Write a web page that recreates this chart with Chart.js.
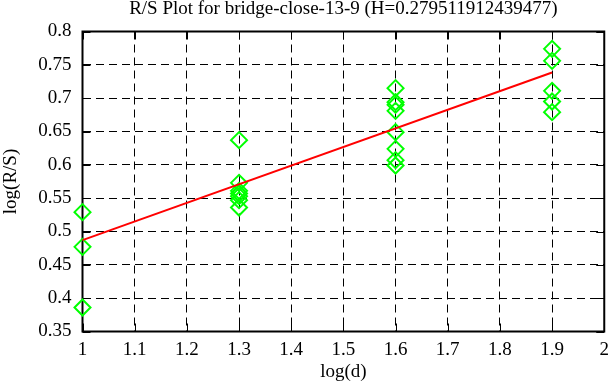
<!DOCTYPE html>
<html>
<head>
<meta charset="utf-8">
<script src="https://cdn.jsdelivr.net/npm/chart.js@4"></script>
<style>
  html, body { margin:0; padding:0; background:#fff; }
  #wrap { width:616px; height:387px; }
</style>
</head>
<body>
<div id="wrap"><canvas id="rsChart" width="616" height="387"></canvas></div>
<script>
// 데이터: log(d) 위치별 log(R/S) 값
var logD = [1, 1.3, 1.6, 1.9];
var rsAt10 = [0.529, 0.477, 0.386];
var rsAt13 = [0.637, 0.573, 0.561, 0.557, 0.553, 0.547, 0.536];
var rsAt16 = [0.715, 0.694, 0.690, 0.681, 0.649, 0.624, 0.607, 0.599];
var rsAt19 = [0.774, 0.756, 0.711, 0.695, 0.679];
// 추세선 양 끝점
var fitX = [1, 1.9];
var fitY = [0.487, 0.7386];
// 눈금
var xTicks = [1, 1.1, 1.2, 1.3, 1.4, 1.5, 1.6, 1.7, 1.8, 1.9, 2];
var yTicks = [0.35, 0.4, 0.45, 0.5, 0.55, 0.6, 0.65, 0.7, 0.75, 0.8];

var groups = [rsAt10, rsAt13, rsAt16, rsAt19];
var points = [];
groups.forEach(function(g, i){
  g.forEach(function(v){ points.push({x: logD[i], y: v}); });
});
var fitLine = fitX.map(function(x, i){ return {x: x, y: fitY[i]}; });

function fmt(v){ return String(parseFloat(v.toFixed(2))); }

// 테두리 + 안쪽 눈금 표시
var framePlugin = {
  id: 'frameTicks',
  beforeDatasetsDraw: function(chart){
    var a = chart.chartArea, ctx = chart.ctx;
    var xs = chart.scales.x, ys = chart.scales.y;
    ctx.save();
    ctx.strokeStyle = '#000';
    ctx.lineWidth = 1;
    ctx.setLineDash([]);
    ctx.beginPath();
    xTicks.forEach(function(t){
      var px = Math.round(xs.getPixelForValue(t)) + 0.5;
      ctx.moveTo(px, a.bottom); ctx.lineTo(px, a.bottom - 8);
      ctx.moveTo(px, a.top); ctx.lineTo(px, a.top + 8);
    });
    yTicks.forEach(function(t){
      var py = Math.round(ys.getPixelForValue(t)) + 0.5;
      ctx.moveTo(a.left, py); ctx.lineTo(a.left + 8, py);
      ctx.moveTo(a.right, py); ctx.lineTo(a.right - 8, py);
    });
    ctx.stroke();
    ctx.lineWidth = 2;
    ctx.strokeRect(a.left, a.top, a.right - a.left, a.bottom - a.top);
    ctx.restore();
  }
};

var serif = '"Liberation Serif", "DejaVu Serif", serif';
var fsize = 19;

new Chart(document.getElementById('rsChart').getContext('2d'), {
  type: 'scatter',
  data: {
    datasets: [{
      label: 'fit',
      type: 'line',
      data: fitLine,
      borderColor: '#ff0000',
      borderWidth: 2,
      pointRadius: 0,
      fill: false,
      clip: false
    }, {
      label: 'R/S',
      data: points,
      pointStyle: 'rectRot',
      pointRadius: 8,
      pointHoverRadius: 8,
      borderColor: '#00ff00',
      backgroundColor: 'rgba(0,0,0,0)',
      pointBorderWidth: 2,
      borderWidth: 2,
      clip: false
    }]
  },
  options: {
    responsive: false,
    animation: false,
    layout: { padding: { left: 0, right: 7, top: 0, bottom: 0 } },
    plugins: {
      legend: { display: false },
      tooltip: { enabled: false },
      title: {
        display: true,
        fullSize: false,
        text: 'R/S Plot for bridge-close-13-9 (H=0.279511912439477)',
        color: '#000',
        font: { family: serif, size: fsize, weight: 'normal', lineHeight: 1 },
        padding: { top: 0, bottom: 12.5 }
      }
    },
    scales: {
      x: {
        type: 'linear',
        min: 1, max: 2,
        afterBuildTicks: function(s){ s.ticks = xTicks.map(function(v){ return {value: v}; }); },
        afterFit: function(s){ s.height = 55.5; },
        ticks: {
          color: '#000',
          font: { family: serif, size: fsize },
          padding: 7,
          maxRotation: 0,
          callback: function(v){ return fmt(v); }
        },
        grid: { color: '#000', lineWidth: 1, drawTicks: false },
        border: { display: false, dash: [8, 5] },
        title: {
          display: true,
          text: 'log(d)',
          color: '#000',
          font: { family: serif, size: fsize },
          padding: { top: 0, bottom: 4 }
        }
      },
      y: {
        type: 'linear',
        min: 0.35, max: 0.8,
        afterBuildTicks: function(s){ s.ticks = yTicks.map(function(v){ return {value: v}; }); },
        afterFit: function(s){ s.width = 82.5; },
        ticks: {
          color: '#000',
          font: { family: serif, size: fsize },
          padding: 11,
          callback: function(v){ return fmt(v); }
        },
        grid: { color: '#000', lineWidth: 1, drawTicks: false },
        border: { display: false, dash: [8, 5] },
        title: {
          display: true,
          text: 'log(R/S)',
          color: '#000',
          font: { family: serif, size: fsize },
          padding: { top: 0, bottom: 0 }
        }
      }
    }
  },
  plugins: [framePlugin]
});
</script>
</body>
</html>
